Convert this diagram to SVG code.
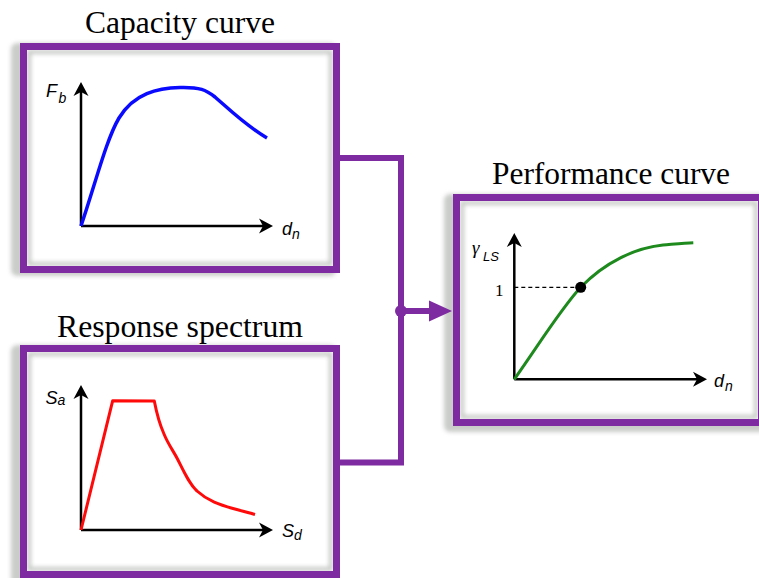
<svg xmlns="http://www.w3.org/2000/svg" width="759" height="578" viewBox="0 0 759 578">
<style>
.title{font-family:"Liberation Serif","Times New Roman",serif;font-size:31.5px;fill:#000}
.frame{fill:#fff;stroke:#7e2aa0;stroke-width:7}
.inner{fill:none;stroke:#c4c8c4;stroke-width:4}
.shadow{fill:#c9ccc9}
.axis{fill:none;stroke:#000;stroke-width:2.5}
.head{fill:#000}
.lbl{font-family:"Liberation Sans",Arial,sans-serif;font-style:italic;fill:#000}
.conn{fill:none;stroke:#7e2aa0;stroke-width:6}
</style>
<defs>
<filter id="blur" x="-10%" y="-10%" width="120%" height="120%"><feGaussianBlur stdDeviation="2"/></filter>
<path id="up" d="M0,0 L7.5,14 L0,10 L-7.5,14 Z"/>
<path id="right" d="M0,0 L-14,-7.5 L-10,0 L-14,7.5 Z"/>
</defs>

<g id="capacity">
<rect class="shadow" x="11" y="43" width="325" height="233" rx="6" filter="url(#blur)"/>
<rect class="frame" x="23.5" y="46.5" width="313" height="223"/>
<rect class="inner" x="29" y="52" width="302" height="212" filter="url(#blur)"/>
<rect x="23.5" y="46.5" width="313" height="223" fill="none" stroke="#7e2aa0" stroke-width="7"/>
<text class="title" x="180" y="33" text-anchor="middle" textLength="190" lengthAdjust="spacingAndGlyphs">Capacity curve</text>
<path class="axis" d="M81,226 V90 M81,226 H265"/>
<use href="#up" class="head" x="81" y="82"/>
<use href="#right" class="head" x="273" y="226"/>
<path d="M81,226 C95,185 106,140 119,118 C134,93 158,88 180,87.5 C200,87 206,90 215,97 C230,110 245,125 267,138" fill="none" stroke="#0a0aff" stroke-width="3.5"/>
<text class="lbl" x="46" y="97" font-size="18">F</text>
<text class="lbl" x="58.5" y="103" font-size="14">b</text>
<text class="lbl" x="282" y="235" font-size="18">d</text>
<text class="lbl" x="292" y="239" font-size="14">n</text>
</g>

<g id="response">
<rect class="shadow" x="11" y="345" width="325" height="240" rx="6" filter="url(#blur)"/>
<rect class="frame" x="23.5" y="348.5" width="313" height="226"/>
<rect class="inner" x="29" y="354" width="302" height="215" filter="url(#blur)"/>
<rect x="23.5" y="348.5" width="313" height="226" fill="none" stroke="#7e2aa0" stroke-width="7"/>
<text class="title" x="180" y="336.5" text-anchor="middle" textLength="246" lengthAdjust="spacingAndGlyphs">Response spectrum</text>
<path class="axis" d="M81,530 V393 M81,530 H265"/>
<use href="#up" class="head" x="81" y="385"/>
<use href="#right" class="head" x="273" y="530"/>
<path d="M81,530 L112.7,400.7 L154.3,401 C157,415 160,425 164,434 C168,444 174,452 178,460 C185,474 190,485 197,491 C208,501 220,505 233,508.5 C242,511 250,513 255,514.5" fill="none" stroke="#ff0a0a" stroke-width="3" stroke-linejoin="round"/>
<text class="lbl" x="45.5" y="404" font-size="18">S</text>
<text class="lbl" x="57.5" y="405" font-size="14">a</text>
<text class="lbl" x="282" y="537" font-size="18">S</text>
<text class="lbl" x="294" y="540" font-size="14">d</text>
</g>

<g id="performance">
<rect class="shadow" x="444" y="194" width="330" height="238" rx="6" filter="url(#blur)"/>
<rect class="frame" x="456.5" y="197.5" width="305" height="225"/>
<rect class="inner" x="462" y="203" width="294" height="214" filter="url(#blur)"/>
<rect x="456.5" y="197.5" width="305" height="225" fill="none" stroke="#7e2aa0" stroke-width="7"/>
<text class="title" x="611" y="184" text-anchor="middle" textLength="238" lengthAdjust="spacingAndGlyphs">Performance curve</text>
<path class="axis" d="M514.3,379.3 V241 M514.3,379.3 H699"/>
<use href="#up" class="head" x="514.3" y="233"/>
<use href="#right" class="head" x="707" y="379.3"/>
<path d="M514.3,379.3 C540,343 560,310 580.7,287.3 C605,262 635,248 663,245 C675,244 685,243 693.3,242.7" fill="none" stroke="#1e8a1e" stroke-width="3"/>
<path d="M514.3,287.3 H580" fill="none" stroke="#000" stroke-width="1.2" stroke-dasharray="4,3"/>
<circle cx="580.7" cy="287.3" r="5.5" fill="#000"/>
<text x="495" y="296" font-family="Liberation Serif,serif" font-size="17" fill="#000">1</text>
<text x="472" y="254" font-family="Liberation Serif,serif" font-style="italic" font-size="19" fill="#000">γ</text>
<text class="lbl" x="483" y="261" font-size="13">LS</text>
<text class="lbl" x="714" y="387" font-size="18">d</text>
<text class="lbl" x="725" y="391" font-size="14">n</text>
</g>

<g id="connectors">
<path class="conn" d="M340,158 H401 V462.5 H340"/>
<circle cx="401" cy="311" r="6" fill="#7e2aa0"/>
<path class="conn" d="M401,311 H431"/>
<polygon points="429,300.5 452,311 429,321.5" fill="#7e2aa0"/>
</g>
</svg>
